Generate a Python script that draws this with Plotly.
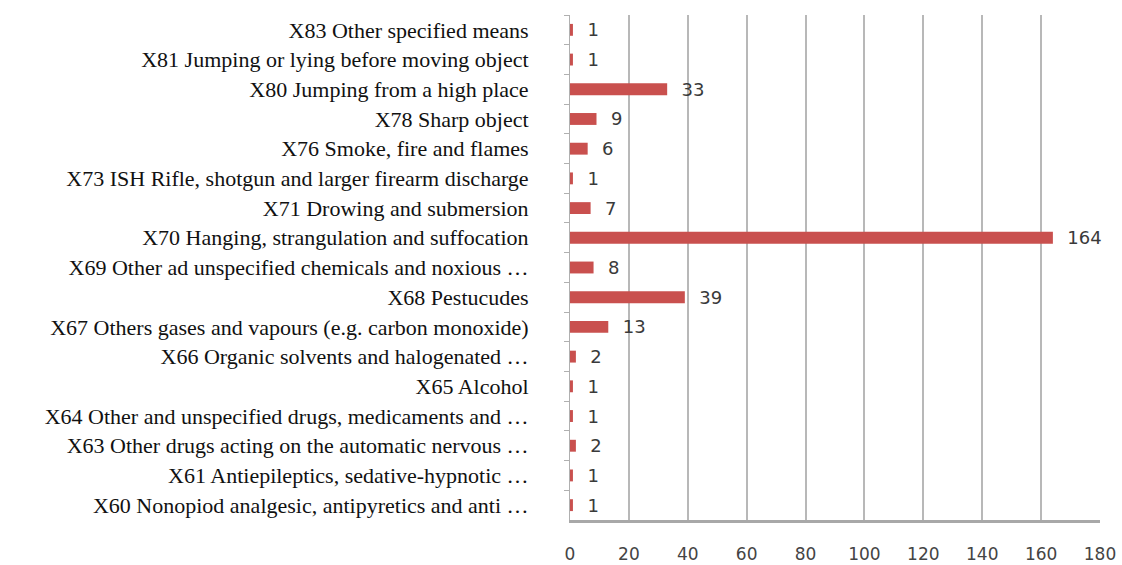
import plotly.graph_objects as go

categories = [
    "X83 Other specified means",
    "X81 Jumping or lying before moving object",
    "X80 Jumping from a high place",
    "X78 Sharp object",
    "X76 Smoke, fire and flames",
    "X73 ISH Rifle, shotgun and larger firearm discharge",
    "X71 Drowing and submersion",
    "X70 Hanging, strangulation and suffocation",
    "X69 Other ad unspecified chemicals and noxious …",
    "X68 Pestucudes",
    "X67 Others gases and vapours (e.g. carbon monoxide)",
    "X66 Organic solvents and halogenated …",
    "X65 Alcohol",
    "X64 Other and unspecified drugs, medicaments and …",
    "X63 Other drugs acting on the automatic nervous …",
    "X61 Antiepileptics, sedative-hypnotic …",
    "X60 Nonopiod analgesic, antipyretics and anti …",
]
values = [1, 1, 33, 9, 6, 1, 7, 164, 8, 39, 13, 2, 1, 1, 2, 1, 1]
x_ticks = [0, 20, 40, 60, 80, 100, 120, 140, 160, 180]

fig = go.Figure(go.Bar(
    y=categories,
    x=values,
    orientation="h",
    marker=dict(color="#c9504e", line=dict(width=0)),
    text=["  " + str(v) for v in values],
    textposition="outside",
    constraintext="none",
    textfont=dict(family="DejaVu Sans", size=18, color="#3a3a3a"),
    cliponaxis=False,
))

fig.update_layout(
    width=1122, height=565,
    margin=dict(l=570, r=22, t=15, b=45),
    plot_bgcolor="white", paper_bgcolor="white",
    bargap=0.6,
    showlegend=False,
)
fig.update_xaxes(
    range=[0, 180], tickvals=x_ticks,
    showgrid=True, gridcolor="#b8b8b8", gridwidth=1.5,
    zeroline=False,
    showline=True, linecolor="#a8a8a8", linewidth=3,
    ticks="", ticklabelstandoff=17,
    automargin=False,
    tickfont=dict(family="DejaVu Sans", size=17, color="#444444"),
)
fig.update_yaxes(
    autorange="reversed",
    showline=True, linecolor="#b0b0b0", linewidth=1,
    ticks="outside", ticklen=5, tickcolor="#b0b0b0",
    tickson="boundaries",
    ticklabelstandoff=36,
    automargin=False,
    tickfont=dict(family="Liberation Serif", size=22, color="#111111"),
)

fig.write_html("out.html")
